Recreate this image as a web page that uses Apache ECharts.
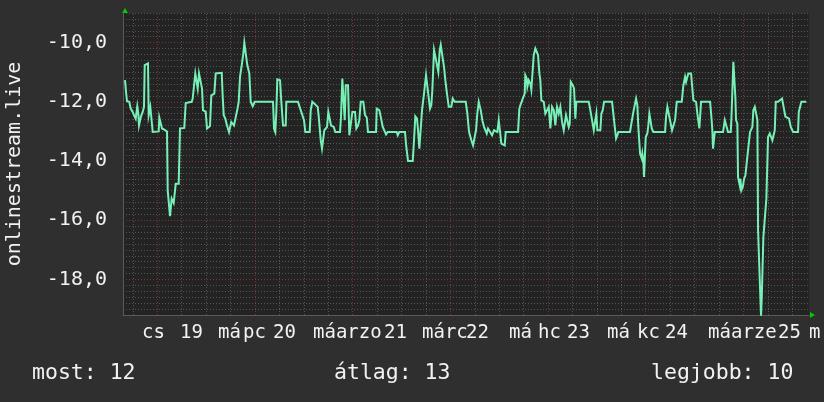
<!DOCTYPE html>
<html>
<head>
<meta charset="utf-8">
<script src="https://cdn.jsdelivr.net/npm/echarts@6/dist/echarts.min.js"></script>
<style>html,body{margin:0;padding:0;background:#2f2f2f;}#c{width:824px;height:402px;}</style>
</head>
<body>
<div id="c"></div>
<script>
// time in hours from the left edge of the plot
const hours = [
0.49,0.74,0.98,1.55,1.89,2.38,2.70,3.12,3.51,3.76,
3.93,4.18,4.42,4.84,5.16,5.33,6.14,6.31,6.56,6.71,
7.05,7.30,8.77,8.92,9.26,9.58,10.15,10.32,10.81,10.98,
11.30,11.55,11.79,11.96,12.28,12.45,12.70,12.95,13.68,14.00,
15.06,15.40,16.88,17.12,17.51,17.76,18.10,18.35,18.67,19.16,
19.41,19.65,20.32,20.63,20.95,21.37,21.69,22.43,22.77,24.25,
24.49,24.74,25.13,25.55,25.87,26.04,26.46,26.60,27.27,27.68,
28.08,28.42,28.74,29.23,29.55,29.80,30.29,30.53,31.03,31.37,
31.86,32.35,36.85,37.09,37.41,37.66,37.90,38.57,38.89,39.30,
39.97,40.12,42.99,43.65,44.46,44.78,45.86,46.11,46.50,47.83,
48.07,48.32,48.57,48.88,49.20,49.45,50.11,50.43,50.92,51.10,
51.76,52.15,53.31,53.55,53.87,54.29,54.46,54.71,55.27,55.59,
56.08,56.33,56.99,57.31,57.73,58.05,58.39,59.03,59.45,59.87,
60.18,62.15,62.32,62.96,63.45,63.80,64.29,64.61,65.02,67.23,
67.48,67.87,69.27,69.52,69.84,70.01,71.17,71.48,71.80,72.22,
72.47,72.79,73.28,73.45,73.94,74.43,74.68,74.92,75.41,75.73,
75.98,76.40,76.72,77.21,77.45,77.80,78.04,78.53,78.85,79.17,
79.52,80.01,80.65,80.99,81.48,84.18,84.58,85.00,85.56,85.98,
86.47,86.71,87.03,87.38,87.87,88.26,88.68,89.00,89.34,89.66,
90.15,90.65,91.14,91.63,91.95,92.29,92.61,92.93,93.76,94.01,
96.05,97.03,97.35,97.60,98.19,98.68,98.82,99.17,99.32,99.66,
100.05,100.30,100.64,100.89,101.28,101.62,101.94,102.27,102.51,102.76,
103.35,103.74,104.16,104.57,104.97,105.38,105.80,106.20,106.61,107.03,
107.42,107.84,108.26,108.65,108.82,109.14,109.49,109.73,109.98,110.47,
110.79,111.11,111.35,114.40,114.79,115.21,115.63,116.02,116.27,116.51,
116.86,117.25,117.50,117.84,118.16,120.12,120.61,121.11,121.43,121.67,
124.54,124.79,125.21,125.36,125.77,126.02,126.34,126.58,126.83,127.00,
127.42,127.57,127.81,127.98,128.23,128.40,128.79,129.04,129.29,129.63,
129.88,130.27,133.14,133.39,133.71,134.20,134.54,134.86,135.18,135.60,
136.02,137.25,137.64,138.06,138.30,138.62,138.87,139.53,139.85,140.10,
140.76,141.08,141.33,141.57,141.82,141.99,144.20,144.37,144.52,144.76,
144.93,145.18,145.35,147.39,147.81,148.20,148.62,149.28,149.43,149.77,
149.92,150.27,150.41,150.58,150.90,151.07,151.49,151.64,151.89,152.23,
152.55,152.87,153.36,153.70,154.02,154.34,154.59,154.83,155.18,155.57,
155.82,155.99,156.41,156.55,156.72,156.90,157.04,157.29,157.63,158.03,
158.27,158.44,158.86,159.26,159.50,159.92,160.09,160.34,160.90,161.32,
161.88,162.37,162.70,163.19,163.60,164.02,164.59,165.81,165.99,166.31,166.63,167.85
];
const values = [
-11.27,-11.66,-11.98,-12.0,-12.23,-12.34,-12.45,-12.57,-12.15,-12.4,
-12.8,-12.8,-12.49,-12.34,-12.17,-10.76,-10.7,-12.45,-12.45,-12.17,
-12.23,-13.02,-13.0,-12.53,-12.53,-12.9,-12.94,-13.0,-13.0,-14.99,
-14.99,-15.86,-15.86,-15.27,-15.22,-15.42,-15.42,-14.77,-14.77,-12.9,
-12.88,-12.04,-12.0,-11.89,-11.83,-11.04,-11.04,-11.55,-11.04,-11.04,
-11.55,-12.28,-12.34,-12.9,-12.96,-12.82,-11.78,-11.72,-11.04,-11.02,
-11.83,-12.45,-12.57,-12.8,-12.74,-13.02,-13.02,-12.68,-12.8,-12.77,
-12.26,-12.0,-11.16,-10.7,-10.37,-10.0,-10.0,-10.76,-11.04,-12.0,
-12.15,-12.0,-12.0,-12.9,-13.02,-12.34,-11.24,-11.27,-12.0,-12.8,
-12.8,-12.0,-12.0,-12.28,-12.62,-13.02,-13.02,-12.28,-12.0,-12.17,
-12.49,-12.53,-13.3,-13.58,-13.58,-12.96,-12.85,-12.34,-12.34,-12.8,
-12.85,-13.02,-13.02,-12.5,-11.21,-11.21,-12.62,-11.44,-11.44,-13.13,
-13.19,-12.34,-12.34,-12.9,-12.8,-12.62,-12.0,-12.0,-12.45,-12.53,
-13.02,-13.02,-12.23,-12.28,-12.6,-12.85,-12.9,-13.1,-13.02,-13.02,
-13.13,-13.02,-13.02,-13.44,-13.47,-14.0,-14.0,-13.3,-12.49,-12.57,
-12.96,-13.58,-13.58,-12.28,-11.72,-11.1,-11.1,-11.66,-12.23,-12.12,
-11.61,-10.25,-10.31,-10.82,-10.99,-10.25,-10.08,-10.08,-10.82,-11.27,
-11.66,-12.17,-12.17,-11.89,-12.0,-12.0,-12.4,-13.02,-13.3,-13.47,
-13.41,-12.96,-12.4,-12.0,-12.28,-12.62,-12.85,-12.85,-13.07,-12.9,
-12.96,-13.13,-12.96,-12.9,-13.02,-12.62,-12.6,-13.41,-13.47,-13.02,
-13.02,-13.02,-12.23,-12.12,-11.89,-11.72,-11.1,-11.21,-11.49,-11.27,
-11.38,-11.59,-11.61,-10.42,-10.2,-10.2,-10.42,-11.04,-11.27,-11.95,
-12.0,-12.4,-12.45,-12.17,-12.9,-12.17,-12.28,-12.8,-12.17,-12.4,
-12.17,-12.68,-12.96,-12.96,-12.45,-12.5,-12.85,-12.74,-11.33,-11.44,
-11.55,-12.57,-12.0,-12.0,-12.28,-12.28,-12.96,-13.02,-12.4,-12.96,
-13.02,-12.96,-12.4,-12.28,-12.0,-12.0,-12.0,-13.24,-13.13,-13.02,
-13.02,-12.8,-12.74,-12.34,-12.28,-11.89,-12.12,-12.85,-12.9,-13.75,
-13.92,-13.75,-13.98,-14.54,-14.54,-13.19,-13.07,-12.8,-12.4,-12.45,
-12.9,-13.02,-13.02,-12.5,-12.17,-12.17,-12.74,-12.96,-12.96,-12.62,
-12.0,-12.0,-11.44,-11.16,-11.33,-11.16,-11.04,-11.04,-11.55,-11.95,
-12.0,-12.4,-12.45,-12.9,-12.9,-12.0,-12.0,-12.06,-12.5,-12.96,
-13.58,-13.58,-13.02,-13.02,-12.62,-12.62,-13.02,-13.02,-12.62,-12.62,
-10.65,-10.65,-11.83,-12.62,-12.74,-14.54,-14.82,-14.6,-14.99,-14.88,
-14.6,-14.49,-14.43,-13.41,-13.02,-12.96,-12.85,-12.28,-12.17,-12.12,
-12.62,-16.35,-16.4,-18.6,-19.22,-18.6,-18.55,-16.57,-16.57,-15.27,
-15.22,-13.19,-13.07,-13.02,-13.3,-13.3,-12.96,-12.0,-12.0,-11.95,
-11.89,-11.89,-12.5,-12.45,-12.57,-12.85,-13.02,-13.02,-12.34,-12.28,-12.0,-12.0
];
// x-axis tick labels (garbled, overlapping as in the original) and where they sit (hours)
const xLabelTexts = ['cs','19','má','pc','20','máarzo','21','márc','22','má','hc','23','má','kc','24','máarze','25','m'];
const xLabelHours = [4.67,14.00,23.34,29.48,36.85,46.67,64.11,73.45,84.26,94.82,101.94,109.07,118.89,126.26,133.14,143.71,160.90,168.5];
// grid lines
const majorY = [-10,-12,-14,-16,-18];
const dayLines = [8.4,32.4,56.4,80.4,104.4,128.4,152.4];
const quarterLines = [2.4,14.4,20.4,26.4,38.4,44.4,50.4,62.4,68.4,74.4,86.4,92.4,98.4,110.4,116.4,122.4,134.4,140.4,146.4,158.4,164.4];
const axisTitle = 'onlinestream.live';
const stats = ['most: 12','átlag: 13','legjobb: 10'];

const mono = '"DejaVu Sans Mono", monospace';
const txt = '#f2f2f2';
const lineData = hours.map((h, i) => [h, values[i]]);

const chart = echarts.init(document.getElementById('c'), null, {renderer: 'canvas'});
chart.setOption({
  backgroundColor: '#2f2f2f',
  animation: false,
  grid: {left: 123, right: 15, top: 13, bottom: 87, show: true, backgroundColor: '#232323', borderWidth: 0,
         containLabel: false, outerBoundsMode: 'none'},
  xAxis: {
    type: 'value', min: 0, max: 168.5,
    axisLine: {show: true, lineStyle: {color: '#5a5a5a', width: 1}},
    axisTick: {show: false},
    splitLine: {show: false},
    axisLabel: {
      customValues: xLabelHours,
      formatter: function (v) {
        for (let i = 0; i < xLabelHours.length; i++) if (Math.abs(xLabelHours[i] - v) < 1e-6) return xLabelTexts[i];
        return '';
      },
      align: 'left', color: txt, fontFamily: mono, fontSize: 19, margin: 9,
      showMinLabel: true, showMaxLabel: true, hideOverlap: false
    }
  },
  yAxis: {
    type: 'value', min: -19.2, max: -9.0, interval: 0.2,
    name: axisTitle, nameLocation: 'middle', nameGap: 98,
    nameTextStyle: {color: txt, fontFamily: mono, fontSize: 20},
    axisLine: {show: true, lineStyle: {color: '#5a5a5a', width: 1}},
    axisTick: {show: false},
    splitLine: {show: true, lineStyle: {color: '#555555', width: 1, type: [1, 2]}},
    axisLabel: {
      color: txt, fontFamily: mono, fontSize: 20, margin: 16,
      formatter: function (v) {
        const r = Math.round(v);
        if (Math.abs(v - r) < 1e-6 && r % 2 === 0) return r.toFixed(1).replace('.', ',');
        return '';
      }
    }
  },
  series: [
    {
      type: 'line', data: [], silent: true, z: 1,
      markLine: {
        silent: true, symbol: 'none', label: {show: false}, animation: false,
        data: [
          ...quarterLines.map(x => ({xAxis: x, lineStyle: {color: '#555555', type: [1, 2], width: 1}})),
          ...dayLines.map(x => ({xAxis: x, lineStyle: {color: '#7a3434', type: [1, 2], width: 1}})),
          ...majorY.map(y => ({yAxis: y, lineStyle: {color: '#7a3434', type: [1, 2], width: 1}}))
        ]
      }
    },
    {
      type: 'line', data: lineData, showSymbol: false, symbol: 'none', z: 5, clip: false,
      lineStyle: {color: '#76f0b6', width: 2, join: 'miter'}
    }
  ],
  graphic: [
    {type: 'polygon', shape: {points: [[122, 13], [128, 13], [125, 8]]}, style: {fill: '#00cc00'}},
    {type: 'polygon', shape: {points: [[810, 312], [810, 318], [815, 315]]}, style: {fill: '#00cc00'}},
    {type: 'text', style: {x: 32, y: 373, text: stats[0], fill: txt, font: '21.5px ' + mono, verticalAlign: 'middle'}},
    {type: 'text', style: {x: 334, y: 373, text: stats[1], fill: txt, font: '21.5px ' + mono, verticalAlign: 'middle'}},
    {type: 'text', style: {x: 651, y: 373, text: stats[2], fill: txt, font: '21.5px ' + mono, verticalAlign: 'middle'}}
  ]
});
</script>
</body>
</html>
